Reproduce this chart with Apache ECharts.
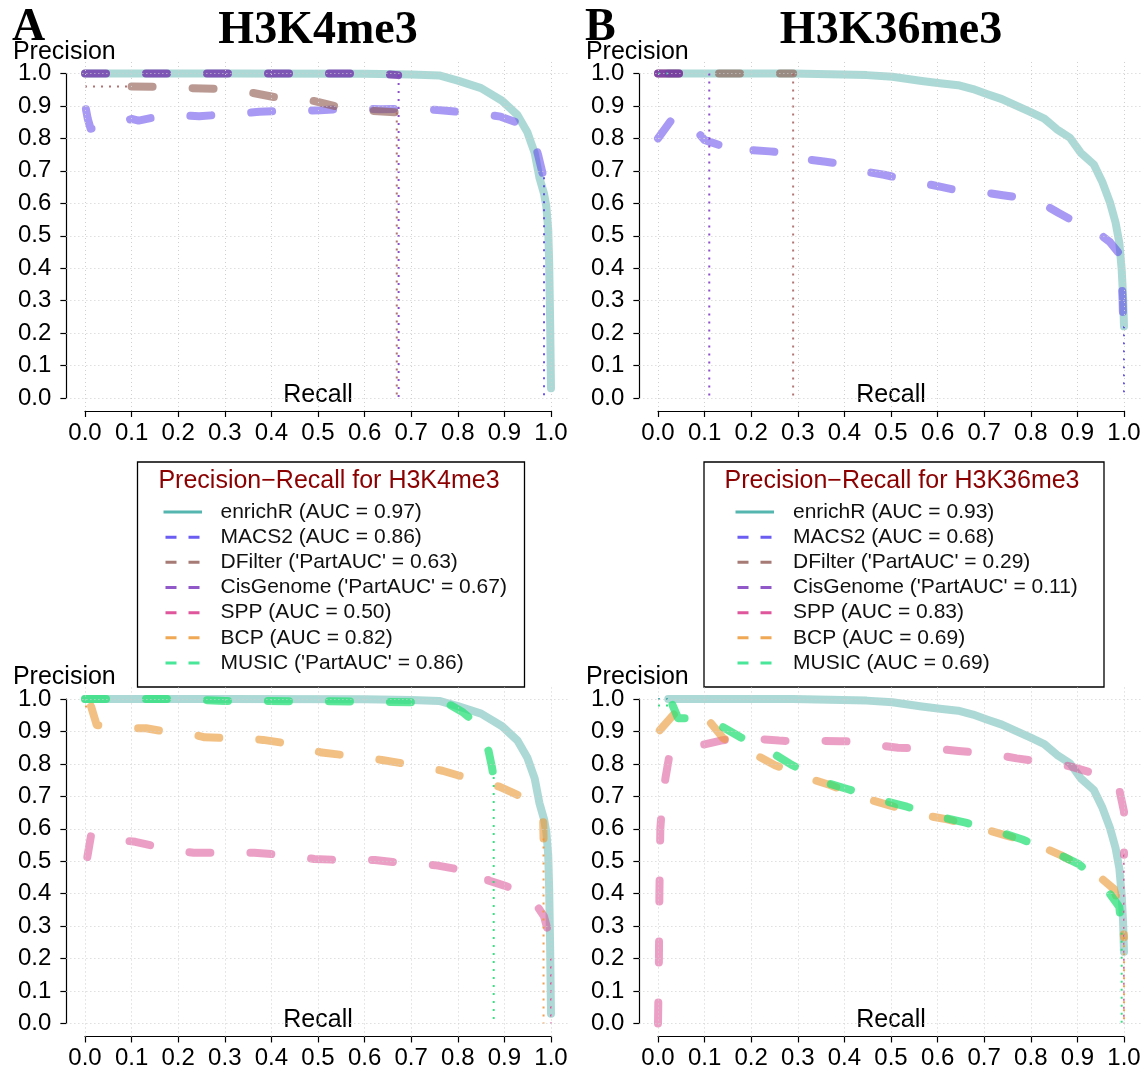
<!DOCTYPE html>
<html><head><meta charset="utf-8">
<script src="https://cdn.jsdelivr.net/npm/echarts@6/dist/echarts.min.js"></script>
<style>html,body{margin:0;padding:0;background:#fff}#c{width:1148px;height:1071px}</style>
</head><body><div id="c"></div>
<script>
// ---------------- DATA ----------------
const ticks = [0, 0.1, 0.2, 0.3, 0.4, 0.5, 0.6, 0.7, 0.8, 0.9, 1.0];
const methods = ['enrichR', 'MACS2', 'DFilter', 'CisGenome', 'SPP', 'BCP', 'MUSIC'];
const h3k4Legend = ['AUC = 0.97', 'AUC = 0.86', "'PartAUC' = 0.63", "'PartAUC' = 0.67", 'AUC = 0.50', 'AUC = 0.82', "'PartAUC' = 0.86"];
const h3k36Legend = ['AUC = 0.93', 'AUC = 0.68', "'PartAUC' = 0.29", "'PartAUC' = 0.11", 'AUC = 0.83', 'AUC = 0.69', 'AUC = 0.69'];

// H3K4me3 (recall, precision)
const h3k4_enrichR = [[0,1.0],[0.3,1.0],[0.6,0.999],[0.7,0.997],[0.76,0.994],[0.8,0.978],[0.85,0.955],[0.895,0.916],[0.928,0.872],[0.949,0.82],[0.965,0.755],[0.975,0.68],[0.985,0.63],[0.99,0.59],[0.994,0.52],[0.996,0.42],[0.998,0.25],[1.0,0.03]];
const h3k4_MACS2 = [[0.002,0.89],[0.006,0.86],[0.012,0.83],[0.04,0.835],[0.068,0.84],[0.09,0.855],[0.1,0.86],[0.115,0.855],[0.15,0.865],[0.194,0.872],[0.245,0.868],[0.28,0.872],[0.32,0.875],[0.374,0.882],[0.41,0.884],[0.453,0.885],[0.504,0.887],[0.54,0.89],[0.582,0.892],[0.633,0.89],[0.67,0.891],[0.712,0.892],[0.763,0.887],[0.8,0.882],[0.841,0.878],[0.892,0.867],[0.925,0.85],[0.945,0.83],[0.955,0.818],[0.965,0.785],[0.972,0.751],[0.984,0.68]];
const h3k4_MACS2_ext = [[0.985,0.68],[0.985,0.0]];
const h3k4_DFilter = [[0.1,0.96],[0.156,0.959],[0.225,0.955],[0.285,0.953],[0.32,0.949],[0.354,0.942],[0.414,0.925],[0.45,0.921],[0.483,0.918],[0.54,0.898],[0.575,0.89],[0.61,0.885],[0.669,0.88]];
const h3k4_DFilter_ext0 = [[0,0.96],[0.1,0.96]];
const h3k4_DFilter_ext1 = [[0.669,0.88],[0.669,0.0]];
const h3k4_CisGenome = [[0,1.0],[0.6,1.0],[0.65,0.997],[0.672,0.995]];
const h3k4_CisGenome_ext = [[0.673,0.995],[0.673,0.0]];
const h3k4_SPP = [[0.005,0.513],[0.013,0.58],[0.035,0.575],[0.057,0.568],[0.108,0.56],[0.145,0.548],[0.182,0.536],[0.233,0.526],[0.27,0.526],[0.308,0.526],[0.363,0.526],[0.4,0.522],[0.437,0.519],[0.492,0.507],[0.53,0.505],[0.567,0.504],[0.622,0.504],[0.66,0.498],[0.696,0.493],[0.751,0.488],[0.79,0.478],[0.822,0.467],[0.865,0.457],[0.865,0.441],[0.9,0.425],[0.928,0.41],[0.947,0.395],[0.951,0.379],[0.967,0.369],[0.985,0.33],[0.995,0.276],[0.998,0.204]];
const h3k4_SPP_ext = [[1.0,0.2],[1.0,0.0]];
const h3k4_BCP = [[0.013,0.977],[0.025,0.92],[0.05,0.915],[0.08,0.915],[0.108,0.91],[0.131,0.91],[0.17,0.9],[0.202,0.895],[0.225,0.893],[0.257,0.882],[0.3,0.88],[0.331,0.879],[0.382,0.874],[0.42,0.866],[0.457,0.856],[0.508,0.835],[0.55,0.828],[0.586,0.823],[0.637,0.812],[0.675,0.803],[0.712,0.794],[0.767,0.779],[0.8,0.765],[0.838,0.751],[0.889,0.73],[0.92,0.71],[0.951,0.689],[0.983,0.639],[0.984,0.57]];
const h3k4_BCP_ext0 = [[0,0.977],[0.013,0.977]];
const h3k4_BCP_ext1 = [[0.984,0.57],[0.984,0.0]];
const h3k4_MUSIC = [[0,1.0],[0.2,1.0],[0.3,0.994],[0.5,0.993],[0.65,0.991],[0.7,0.99],[0.75,0.987],[0.783,0.982],[0.81,0.96],[0.826,0.941],[0.845,0.91],[0.856,0.875],[0.866,0.84],[0.873,0.792],[0.877,0.76]];
const h3k4_MUSIC_ext = [[0.877,0.76],[0.877,0.0]];

// H3K36me3
const h3k36_enrichR = [[0.022,1.0],[0.29,1.0],[0.369,0.998],[0.448,0.995],[0.503,0.99],[0.566,0.977],[0.605,0.97],[0.644,0.964],[0.676,0.952],[0.707,0.936],[0.738,0.921],[0.77,0.9],[0.801,0.88],[0.829,0.861],[0.856,0.828],[0.884,0.802],[0.907,0.756],[0.935,0.72],[0.954,0.664],[0.97,0.602],[0.982,0.54],[0.99,0.478],[0.995,0.396],[0.998,0.314],[1.0,0.221]];
const h3k36_enrichR_ext = [[0,1.0],[0.022,1.0]];
const h3k36_MACS2 = [[0,0.8],[0.029,0.857],[0.045,0.87],[0.06,0.86],[0.072,0.841],[0.1,0.795],[0.11,0.79],[0.13,0.78],[0.15,0.79],[0.165,0.8],[0.2,0.764],[0.24,0.76],[0.276,0.755],[0.29,0.736],[0.326,0.734],[0.36,0.728],[0.4,0.72],[0.448,0.697],[0.485,0.688],[0.522,0.676],[0.573,0.661],[0.61,0.65],[0.648,0.638],[0.703,0.633],[0.74,0.625],[0.778,0.617],[0.829,0.596],[0.86,0.57],[0.896,0.542],[0.943,0.511],[0.97,0.48],[0.994,0.437],[0.995,0.365],[0.997,0.3],[0.998,0.242],[1.0,0.221]];
const h3k36_MACS2_ext = [[1.0,0.221],[1.0,0.0]];
const h3k36_DFilter = [[0,1.0],[0.29,1.0]];
const h3k36_DFilter_ext = [[0.29,1.0],[0.29,0.0]];
const h3k36_CisGenome = [[0,1.0],[0.11,1.0]];
const h3k36_CisGenome_ext = [[0.11,1.0],[0.11,0.0]];
const h3k36_SPP = [[0,0],[0.002,0.2],[0.003,0.4],[0.005,0.6],[0.01,0.7],[0.016,0.756],[0.024,0.823],[0.04,0.832],[0.055,0.835],[0.086,0.856],[0.1,0.86],[0.135,0.872],[0.169,0.879],[0.224,0.876],[0.26,0.872],[0.298,0.869],[0.353,0.871],[0.39,0.87],[0.428,0.869],[0.479,0.856],[0.515,0.85],[0.554,0.848],[0.609,0.845],[0.645,0.84],[0.683,0.835],[0.738,0.825],[0.77,0.817],[0.805,0.81],[0.856,0.802],[0.89,0.79],[0.923,0.776],[0.974,0.751],[0.99,0.72],[1.0,0.653],[1.0,0.52]];
const h3k36_SPP_ext = [[1.0,0.52],[1.0,0.0]];
const h3k36_BCP = [[0.004,0.904],[0.036,0.956],[0.07,0.95],[0.108,0.935],[0.14,0.879],[0.17,0.855],[0.204,0.832],[0.251,0.796],[0.29,0.775],[0.322,0.756],[0.369,0.735],[0.41,0.713],[0.444,0.694],[0.495,0.673],[0.535,0.656],[0.57,0.642],[0.621,0.629],[0.66,0.614],[0.695,0.601],[0.746,0.58],[0.785,0.563],[0.821,0.546],[0.864,0.519],[0.9,0.492],[0.935,0.467],[0.978,0.415],[0.99,0.36],[0.998,0.307],[1.0,0.266]];
const h3k36_BCP_ext = [[1.0,0.266],[1.0,0.0]];
const h3k36_MUSIC = [[0.031,0.982],[0.043,0.941],[0.063,0.941],[0.1,0.935],[0.13,0.921],[0.177,0.882],[0.21,0.86],[0.244,0.835],[0.287,0.797],[0.325,0.77],[0.361,0.742],[0.408,0.722],[0.445,0.705],[0.483,0.687],[0.534,0.668],[0.57,0.652],[0.605,0.637],[0.66,0.619],[0.695,0.605],[0.731,0.591],[0.782,0.567],[0.82,0.545],[0.856,0.524],[0.903,0.491],[0.93,0.46],[0.958,0.423],[0.99,0.359],[0.995,0.28]];
const h3k36_MUSIC_ext0 = [[0,0.98],[0.031,0.98]];
const h3k36_MUSIC_ext1 = [[0.995,0.28],[0.995,0.0]];

// ---------------- STYLE / LAYOUT ----------------
const STYLE = {
  enrichR:   {plot:'rgba(90,180,172,0.5)',  key:'#55B6AF', dot:'rgba(70,170,165,0.9)', solid:true},
  MACS2:     {plot:'rgba(95,70,235,0.55)',  key:'#6B5CF2', dot:'rgba(90,70,235,0.9)'},
  DFilter:   {plot:'rgba(140,85,75,0.6)',   key:'#A67A75', dot:'rgba(170,100,100,0.9)'},
  CisGenome: {plot:'rgba(110,40,170,0.75)', key:'#9058C8', dot:'rgba(130,60,200,0.9)'},
  SPP:       {plot:'rgba(220,80,150,0.55)', key:'#E0569C', dot:'rgba(215,80,150,0.9)'},
  BCP:       {plot:'rgba(235,150,50,0.6)',  key:'#F0A855', dot:'rgba(240,150,60,0.9)'},
  MUSIC:     {plot:'rgba(40,225,120,0.75)', key:'#48E699', dot:'rgba(40,220,120,0.9)'}
};
const SANS = '"Liberation Sans", Arial, Helvetica, sans-serif';
const SERIF = '"Liberation Serif", "Times New Roman", serif';
const W = 466, H = 324.5;

const panels = [
  {x0:85,  y1:73.5, letter:'A', title:'H3K4me3',
   curves:[['enrichR',h3k4_enrichR],['MACS2',h3k4_MACS2],['DFilter',h3k4_DFilter],['CisGenome',h3k4_CisGenome]],
   exts:[['DFilter',h3k4_DFilter_ext0],['DFilter',h3k4_DFilter_ext1],['CisGenome',h3k4_CisGenome_ext],['MACS2',h3k4_MACS2_ext]]},
  {x0:658, y1:73.5, letter:'B', title:'H3K36me3',
   curves:[['enrichR',h3k36_enrichR],['MACS2',h3k36_MACS2],['DFilter',h3k36_DFilter],['CisGenome',h3k36_CisGenome]],
   exts:[['enrichR',h3k36_enrichR_ext],['CisGenome',h3k36_CisGenome_ext],['DFilter',h3k36_DFilter_ext],['MACS2',h3k36_MACS2_ext]]},
  {x0:85,  y1:699,
   curves:[['enrichR',h3k4_enrichR],['SPP',h3k4_SPP],['BCP',h3k4_BCP],['MUSIC',h3k4_MUSIC]],
   exts:[['BCP',h3k4_BCP_ext0],['MUSIC',h3k4_MUSIC_ext],['BCP',h3k4_BCP_ext1],['SPP',h3k4_SPP_ext]]},
  {x0:658, y1:699,
   curves:[['enrichR',h3k36_enrichR],['SPP',h3k36_SPP],['BCP',h3k36_BCP],['MUSIC',h3k36_MUSIC]],
   exts:[['enrichR',h3k36_enrichR_ext],['MUSIC',h3k36_MUSIC_ext0],['MUSIC',h3k36_MUSIC_ext1],['SPP',h3k36_SPP_ext],['BCP',h3k36_BCP_ext]]}
];

const legends = [
  {cx:331, left:137.5, width:387, keyX:163.5, textX:220.5, title:'Precision\u2212Recall for H3K4me3', labels:h3k4Legend},
  {cx:904, left:704,   width:400, keyX:735.5, textX:793,   title:'Precision\u2212Recall for H3K36me3', labels:h3k36Legend}
];

// ---------------- BUILD OPTION ----------------
const grid = [], xAxis = [], yAxis = [], series = [], gfx = [];
const fmt = v => v.toFixed(1);

panels.forEach((p, i) => {
  const pg = 2*i, ag = 2*i+1;
  grid.push({left:p.x0-0.04*W, top:p.y1-0.04*H, width:1.08*W, height:1.08*H, outerBoundsMode:'none', containLabel:false});
  grid.push({left:p.x0, top:p.y1, width:W, height:H, outerBoundsMode:'none', containLabel:false});
  xAxis.push({gridIndex:pg, type:'value', min:-0.04, max:1.04, show:false});
  yAxis.push({gridIndex:pg, type:'value', min:-0.04, max:1.04, show:false});
  xAxis.push({gridIndex:ag, type:'value', min:0, max:1, interval:0.1, position:'bottom', offset:0.04*H,
    axisLine:{show:true, onZero:false, lineStyle:{color:'#000', width:1.2}},
    axisTick:{show:true, inside:false, length:6, lineStyle:{color:'#000', width:1.2}},
    axisLabel:{show:true, margin:10, fontSize:24, fontFamily:SANS, color:'#000', formatter:fmt, showMinLabel:true, showMaxLabel:true},
    splitLine:{show:false}});
  yAxis.push({gridIndex:ag, type:'value', min:0, max:1, interval:0.1, position:'left', offset:0.04*W,
    axisLine:{show:true, onZero:false, lineStyle:{color:'#000', width:1.2}},
    axisTick:{show:true, inside:false, length:6, lineStyle:{color:'#000', width:1.2}},
    axisLabel:{show:true, margin:15, fontSize:24, fontFamily:SANS, color:'#000', formatter:fmt, showMinLabel:true, showMaxLabel:true},
    splitLine:{show:false}});

  // dotted background grid (R grid())
  series.push({type:'line', xAxisIndex:pg, yAxisIndex:pg, data:[[0,0]], symbol:'none', silent:true, z:1,
    lineStyle:{width:0, opacity:0}, animation:false,
    markLine:{silent:true, symbol:['none','none'], label:{show:false}, animation:false, emphasis:{disabled:true},
      lineStyle:{color:'#cfcfcf', width:1, type:[1,3]},
      data: ticks.map(t => ({xAxis:t})).concat(ticks.map(t => ({yAxis:t})))}});

  p.curves.forEach(([m, d]) => {
    const st = STYLE[m];
    series.push({type:'line', name:m, xAxisIndex:pg, yAxisIndex:pg, data:d, symbol:'none', showSymbol:false,
      smooth:false, silent:true, clip:false, z:2, animation:false, emphasis:{disabled:true},
      lineStyle:{color:st.plot, width:8, type: st.solid ? 'solid' : [21,40], cap:'round', join:'round'}});
  });
  p.exts.forEach(([m, d]) => {
    const st = STYLE[m];
    series.push({type:'line', xAxisIndex:pg, yAxisIndex:pg, data:d, symbol:'none', showSymbol:false,
      silent:true, clip:false, z:3, animation:false, emphasis:{disabled:true},
      lineStyle:{color:st.dot, width:2, type:[2,6], cap:'butt'}});
  });

  // axis titles
  const txt = (x, y, text, size, family, weight, align) => ({type:'text', x, y, silent:true,
    style:{text, fontSize:size, fontFamily:family, fontWeight:weight||'normal', fill:'#000',
      align:align||'center', textAlign:align||'center', verticalAlign:'middle', textVerticalAlign:'middle'}});
  gfx.push(txt(p.x0 - 0.04*W - 2, p.y1 - 21.5, 'Precision', 25, SANS));
  gfx.push(txt(p.x0 + W/2, p.y1 + H - 3, 'Recall', 25, SANS));
  if (p.title) {
    gfx.push(txt(p.x0 + W/2, 31, p.title, 46, SERIF, 'bold'));
    gfx.push(txt(p.x0 - 73, 28, p.letter, 46, SERIF, 'bold', 'left'));
  }
});

// legends
legends.forEach(L => {
  gfx.push({type:'rect', silent:true, shape:{x:L.left, y:462, width:L.width, height:225},
    style:{fill:'#fff', stroke:'#000', lineWidth:1.3}});
  gfx.push({type:'text', x:L.cx - 2, y:481, silent:true,
    style:{text:L.title, fontSize:25, fontFamily:SANS, fill:'#8B0000', align:'center', textAlign:'center', verticalAlign:'middle', textVerticalAlign:'middle'}});
  methods.forEach((m, k) => {
    const y = 512 + k*25.17, st = STYLE[m];
    gfx.push({type:'line', silent:true,
      shape: st.solid ? {x1:L.keyX, y1:y, x2:L.keyX+38.5, y2:y} : {x1:L.keyX+2, y1:y, x2:L.keyX+36, y2:y},
      style:{stroke:st.key, lineWidth:3, lineDash: st.solid ? null : [11,12]}});
    gfx.push({type:'text', x:L.textX, y:y, silent:true,
      style:{text: m + ' (' + L.labels[k] + ')', fontSize:21, fontFamily:SANS, fill:'#111', align:'left', textAlign:'left', verticalAlign:'middle', textVerticalAlign:'middle'}});
  });
});

const chart = echarts.init(document.getElementById('c'), null, {renderer:'canvas'});
chart.setOption({animation:false, backgroundColor:'#fff', grid, xAxis, yAxis, series, graphic:{elements:gfx}});
</script></body></html>
